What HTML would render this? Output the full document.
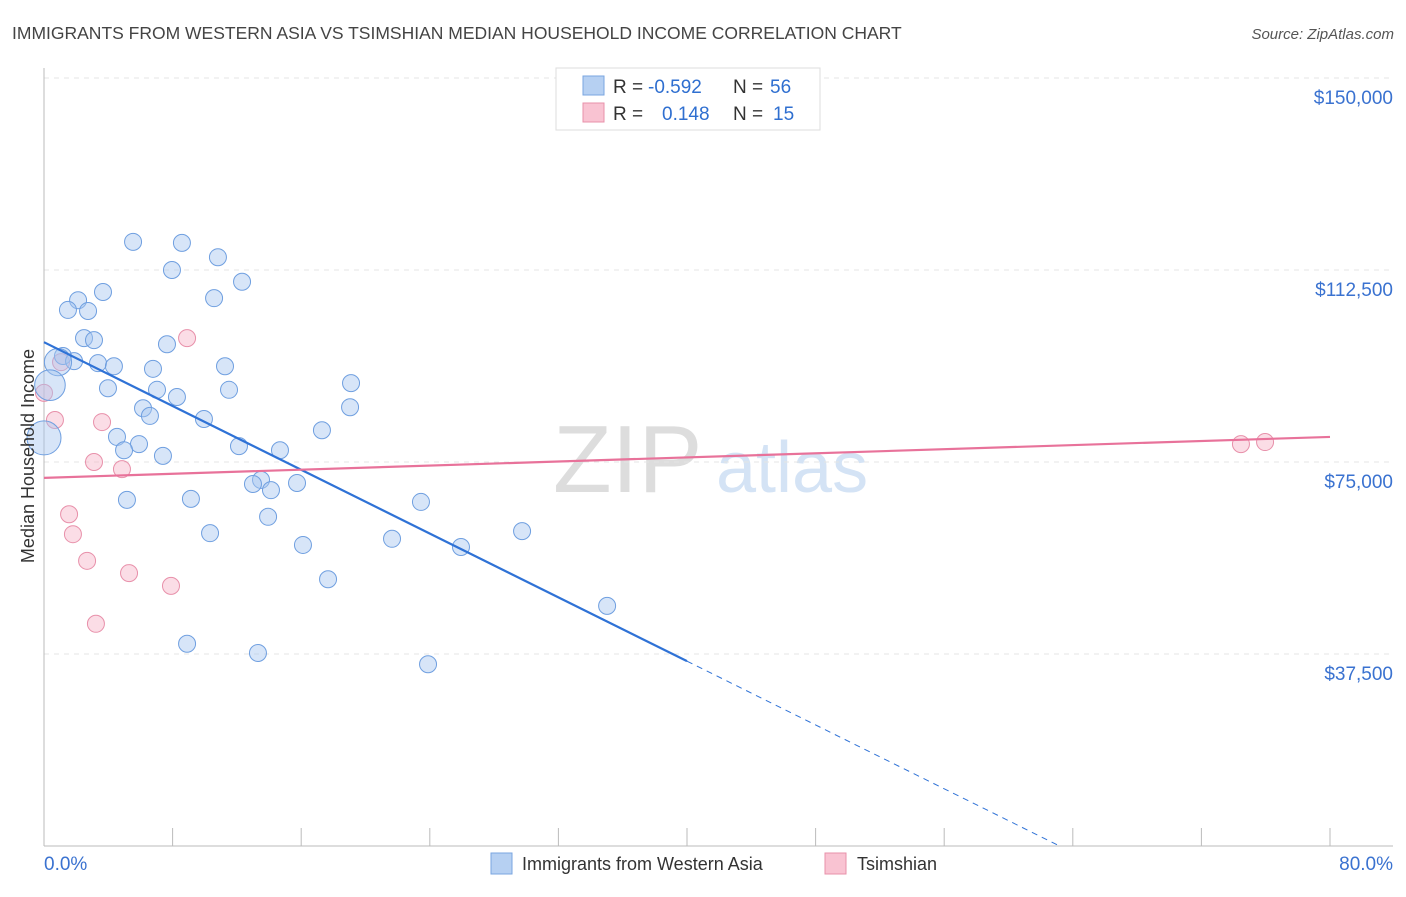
<!DOCTYPE html>
<html><head><meta charset="utf-8"><style>
body{margin:0;background:#fff;font-family:"Liberation Sans",sans-serif}
svg text{font-family:"Liberation Sans",sans-serif}
</style></head><body>
<svg width="1406" height="892">
<text x="12" y="39" font-size="17.5" fill="#444">IMMIGRANTS FROM WESTERN ASIA VS TSIMSHIAN MEDIAN HOUSEHOLD INCOME CORRELATION CHART</text>
<text x="1394" y="39" font-size="15" fill="#555" font-style="italic" text-anchor="end">Source: ZipAtlas.com</text>
<g>
<text x="553" y="492" font-size="96" fill="#ddd" font-family="Liberation Serif,serif">ZIP</text>
<text x="716" y="492" font-size="72" fill="#d4e3f5">atlas</text>
</g>
<g id="grid"></g>
<g id="axes"></g>
<g id="marks"></g>
<g>
<rect x="556" y="68" width="264" height="62" fill="#fff" stroke="#ddd"/>
<rect x="583" y="76" width="21" height="19" fill="#b6d0f2" stroke="#7aa6e0"/>
<rect x="583" y="103" width="21" height="19" fill="#f9c3d2" stroke="#e890aa"/>
<text y="93" font-size="19"><tspan x="613" fill="#333">R =</tspan><tspan x="648" fill="#2f6fd0">-0.592</tspan><tspan x="733" fill="#333">N =</tspan><tspan x="770" fill="#2f6fd0">56</tspan></text>
<text y="120" font-size="19"><tspan x="613" fill="#333">R =</tspan><tspan x="662" fill="#2f6fd0">0.148</tspan><tspan x="733" fill="#333">N =</tspan><tspan x="773" fill="#2f6fd0">15</tspan></text>
</g>
<g>
<rect x="491" y="853" width="21" height="21" fill="#b6d0f2" stroke="#7aa6e0"/>
<text x="522" y="870" font-size="18" fill="#333">Immigrants from Western Asia</text>
<rect x="825" y="853" width="21" height="21" fill="#f9c3d2" stroke="#e890aa"/>
<text x="857" y="870" font-size="18" fill="#333">Tsimshian</text>
</g>
<text transform="translate(34,456) rotate(-90)" font-size="18" fill="#333" text-anchor="middle">Median Household Income</text>
</svg>
<script>
const yTicks=[37500,75000,112500,150000];
const yTickLabels=["$37,500","$75,000","$112,500","$150,000"];
const xTicks=[0,8,16,24,32,40,48,56,64,72,80];
const blueX=[5.54,8.58,10.82,7.96,12.32,3.67,10.58,2.12,1.49,2.74,2.49,3.11,7.65,1.18,1.87,3.36,4.35,11.26,6.78,0.87,0.37,3.98,7.03,11.51,19.10,8.27,6.16,19.04,6.59,9.95,4.54,17.29,5.91,0.0,12.13,14.68,4.98,7.40,13.50,13.00,15.74,14.12,5.16,9.14,23.45,13.94,29.74,10.33,21.65,16.11,25.94,17.67,35.03,8.90,13.31,23.89];
const blueY=[118.0,117.8,115.0,112.5,110.2,108.2,107.0,106.6,104.7,104.5,99.2,98.8,98.0,95.7,94.7,94.3,93.7,93.7,93.2,94.5,90.0,89.4,89.1,89.1,90.4,87.7,85.5,85.7,84.0,83.4,79.9,81.2,78.5,79.7,78.1,77.3,77.3,76.2,71.5,70.7,70.9,69.5,67.6,67.8,67.2,64.3,61.5,61.1,60.0,58.8,58.4,52.1,46.9,39.5,37.7,35.5];
const blueSize=[1,1,1,1,1,1,1,1,1,1,1,1,1,1,1,1,1,1,1,1.6,1.8,1,1,1,1,1,1,1,1,1,1,1,1,2,1,1,1,1,1,1,1,1,1,1,1,1,1,1,1,1,1,1,1,1,1,1];
const pinkX=[1.06,8.90,0.68,3.61,3.11,4.85,1.56,1.80,2.68,5.29,7.90,3.23,74.46,75.96,0.0];
const pinkY=[94.5,99.2,83.2,82.8,75.0,73.6,64.8,60.9,55.7,53.3,50.8,43.4,78.5,78.9,88.5];
const blueTrend=[98.4,-1.5575]; // intercept (k$), slope per %
const pinkTrend=[71.9,0.1];
const NS="http://www.w3.org/2000/svg";
const sx=v=>44+v/80*1286;
const sy=v=>846-v/37500*192;
function mk(t,a,p){const e=document.createElementNS(NS,t);for(const k in a)e.setAttribute(k,a[k]);p.appendChild(e);return e;}
const grid=document.getElementById('grid'),axes=document.getElementById('axes'),marks=document.getElementById('marks');
yTicks.concat([150000]).forEach((t,i)=>{if(i>=yTicks.length)return;
 const l=mk('line',{x1:44,x2:1393,y1:sy(t),y2:sy(t),stroke:'#e4e4e4','stroke-dasharray':'5,5'},grid);
 
 
 const tx=mk('text',{x:1393,y:sy(t)+26,'font-size':19,fill:'#3a72d0','text-anchor':'end'},axes);
 tx.textContent=yTickLabels[i];
 
 
});
let a=mk('line',{x1:44,x2:44,y1:68,y2:846,stroke:'#bbb'},axes);


a=mk('line',{x1:44,x2:1393,y1:846,y2:846,stroke:'#bbb'},axes);


xTicks.forEach(t=>{const l=mk('line',{x1:sx(t),x2:sx(t),y1:828,y2:846,stroke:'#bbb'},axes);
 
 });
let t0=mk('text',{x:44,y:870,'font-size':19,fill:'#3a72d0'},axes);t0.textContent=xTicks[0].toFixed(1)+'%';


let t1=mk('text',{x:1393,y:870,'font-size':19,fill:'#3a72d0','text-anchor':'end'},axes);t1.textContent=xTicks[xTicks.length-1].toFixed(1)+'%';


const bx=(v)=>sy((blueTrend[0]+blueTrend[1]*v)*1000);
const px=(v)=>sy((pinkTrend[0]+pinkTrend[1]*v)*1000);
pinkX.forEach((x,i)=>{const c=mk('circle',{cx:sx(x),cy:sy(pinkY[i]*1000),r:8.5,fill:'rgba(247,180,200,0.45)',stroke:'#e890aa','stroke-width':1},marks);
 
 });
blueX.forEach((x,i)=>{const c=mk('circle',{cx:sx(x),cy:sy(blueY[i]*1000),r:8.5*blueSize[i],fill:'rgba(166,198,240,0.45)',stroke:'#6f9fe0','stroke-width':1},marks);
 
 });
const zeroX=-blueTrend[0]/blueTrend[1];
let l=mk('line',{x1:sx(0),y1:bx(0),x2:sx(40),y2:bx(40),stroke:'#2f72d6','stroke-width':2.2},marks);


l=mk('line',{x1:sx(40),y1:bx(40),x2:sx(zeroX),y2:bx(zeroX),stroke:'#2f72d6','stroke-width':1,'stroke-dasharray':'6,5'},marks);


l=mk('line',{x1:sx(0),y1:px(0),x2:sx(80),y2:px(80),stroke:'#e8729a','stroke-width':2.2},marks);


</script>
</body></html>
